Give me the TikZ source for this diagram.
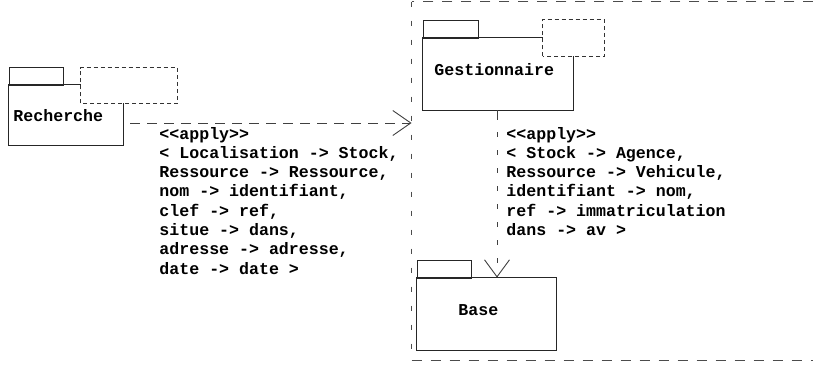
\documentclass[tikz,border=0pt]{standalone}
\usepackage{fontspec}
\setmainfont{Liberation Mono}
\usetikzlibrary{arrows.meta,fit,calc}
\begin{document}
\begin{tikzpicture}[x=1pt,y=-1pt,line width=0.9pt,
  pkgline/.style={draw=black!85},
  tmpl/.style={draw=black!80,dash pattern=on 4pt off 3pt},
  outerh/.style={draw=black!70,line width=1.2pt,dash pattern=on 10pt off 9pt},
  outerv/.style={draw=black!70,line width=1.2pt,dash pattern=on 5pt off 14pt},
  depH/.style={draw=black!75,dash pattern=on 10pt off 7pt,-{Straight Barb[length=18pt,width=25pt,line width=0.9pt]}},
  depV/.style={draw=black!75,dash pattern=on 10pt off 12pt on 5pt off 13pt on 5pt off 13pt on 5pt off 13pt on 5pt off 13pt on 5pt off 13pt on 5pt off 13pt on 5pt off 13pt on 5pt off 13pt on 5pt off 13pt,-{Straight Barb[length=17pt,width=25pt,line width=0.9pt]}},
  lbl/.style={font=\bfseries\fontsize{16.6pt}{19.3pt}\selectfont,inner sep=0pt,anchor=base west},
  area/.style={inner sep=0pt}]
\useasboundingbox (0,0) rectangle (813,364);
% outer dashed frame
\node[area,fit={(412,2)(813,360)}] (outer) {};
\draw[outerh] (outer.north east) -- (outer.north west);
\draw[outerv] (outer.north west) -- (outer.south west);
\draw[outerh] (outer.south west) -- (outer.south east);
% Recherche package
\node[area,fit={(9,85)(123,145)}] (rech) {};
\node[area,fit={(81,68)(177,103)}] (rechT) {};
\draw[pkgline] (9,67) rectangle (63,85);
\draw[pkgline] (rechT.west |- rech.north) -- (rech.north west) -- (rech.south west) -- (rech.south east) -- (rech.east |- rechT.south);
\draw[tmpl] (rechT.south west) rectangle (rechT.north east);
\node[lbl] (rechL) at (13,121) {Recherche};
% Gestionnaire package
\node[area,fit={(423,38)(573,110)}] (gest) {};
\node[area,fit={(543,20)(604,56)}] (gestT) {};
\draw[pkgline] (423,20) rectangle (478,38);
\draw[pkgline] (gestT.west |- gest.north) -- (gest.north west) -- (gest.south west) -- (gest.south east) -- (gest.east |- gestT.south);
\draw[tmpl] (gestT.south west) rectangle (gestT.north east);
\node[lbl] (gestL) at (434,75) {Gestionnaire};
% Base package
\node[area,fit={(417,278)(556,350)}] (base) {};
\draw[pkgline] (417,260) rectangle (471,278);
\draw[pkgline] (base.north west) rectangle (base.south east);
\node[lbl] (baseL) at (458,315) {Base};
% dependencies
\coordinate (a1s) at (130,123);
\draw[depH] (a1s) -- (a1s -| outer.west);
\coordinate (a2s) at (497,110);
\draw[depV] (a2s) -- (a2s |- base.north);
% labels
\node[lbl] (l1) at (159,139) {\begin{tabular}[t]{@{}l@{}}
<{}<apply>{}>\\
< Localisation -> Stock,\\
Ressource -> Ressource,\\
nom -> identifiant,\\
clef -> ref,\\
situe -> dans,\\
adresse -> adresse,\\
date -> date >
\end{tabular}};
\node[lbl] (l2) at (506,139) {\begin{tabular}[t]{@{}l@{}}
<{}<apply>{}>\\
< Stock -> Agence,\\
Ressource -> Vehicule,\\
identifiant -> nom,\\
ref -> immatriculation\\
dans -> av >
\end{tabular}};
\end{tikzpicture}
\end{document}
